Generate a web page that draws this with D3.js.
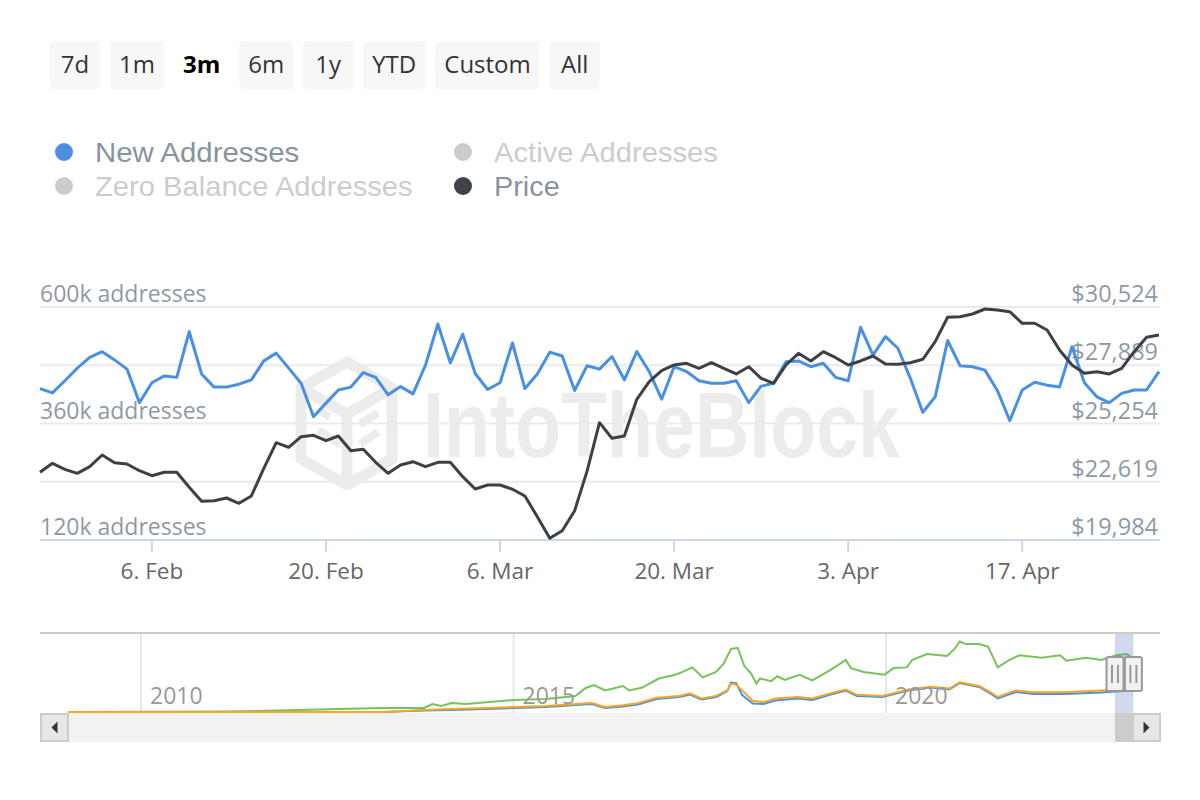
<!DOCTYPE html>
<html><head><meta charset="utf-8">
<script src="https://cdn.jsdelivr.net/npm/d3@7"></script>
<style>html,body{margin:0;padding:0;background:#fff;} svg{display:block;}</style>
</head><body><svg id="c" width="1200" height="800"></svg>
<script>
// ---------------- DATA ----------------
const rangeButtons = ["7d","1m","3m","6m","1y","YTD","Custom","All"];
const selectedRange = "3m";

const legendNames   = ["New Addresses","Active Addresses","Zero Balance Addresses","Price"];
const legendColors  = ["#4a90e2","#cccccc","#cccccc","#3f4347"];
const legendActive  = [true,false,false,true];

const startDate = "2023-01-28";   // daily points
const newAddressesK = [
 432,423,448,474,496,508,491,472,403,444,
 458,455,549,462,435,435,441,450,489,505,
 474,443,374,402,429,435,465,455,419,436,
 421,480,565,485,544,463,430,444,526,432,
 462,507,499,428,479,472,498,450,508,467,
 410,477,467,448,443,443,448,403,437,443,
 487,489,477,484,455,448,558,501,539,515,
 453,383,415,531,479,477,470,428,366,429,
 445,439,435,518,444,415,403,422,429,429,
 467];
const price = [
 23047,23454,23182,23001,23300,23829,23481,23422,23119,22893,
 23047,23047,22368,21735,21762,21884,21644,21975,23228,24386,
 24178,24657,24721,24476,24689,24024,24087,23499,23001,23377,
 23526,23300,23499,23499,22848,22291,22472,22472,22278,21975,
 21038,20061,20405,21310,23100,25291,24585,24689,26349,27146,
 27643,27901,27978,27752,28005,27752,27494,27824,27299,27073,
 27901,28430,28082,28503,28231,27901,28082,28308,27946,27932,
 28005,28159,28955,30059,30086,30208,30434,30389,30312,29787,
 29787,29484,28580,27901,27525,27598,27494,27752,28503,29154,
 29258];

const addressTicks = [120000,240000,360000,480000,600000];
const addressTickLabels = ["120k addresses","","360k addresses","","600k addresses"];
const priceTicks = [19984,22619,25254,27889,30524];
const priceTickLabels = ["$19,984","$22,619","$25,254","$27,889","$30,524"];
const dateTicks = ["2023-02-06","2023-02-20","2023-03-06","2023-03-20","2023-04-03","2023-04-17"];

// navigator (whole history, relative units)
const navYearTicks = [2010,2015,2020];
const navActiveYears = [2009.02,2011.10,2011.53,2013.25,2013.80,2013.91,2014.03,2014.17,2014.36,2015.01,2015.44,2015.83,2015.97,2016.08,2016.23,2016.47,2016.55,2016.72,2016.95,2017.17,2017.27,2017.40,2017.54,2017.72,2017.82,2017.92,2018.01,2018.10,2018.19,2018.26,2018.31,2018.46,2018.54,2018.64,2018.84,2019.01,2019.21,2019.33,2019.46,2019.53,2019.70,2019.98,2020.10,2020.28,2020.35,2020.55,2020.82,2020.92,2020.99,2021.07,2021.25,2021.37,2021.50,2021.64,2021.79,2022.09,2022.34,2022.42,2022.69,2022.89,2023.09,2023.23,2023.28];
const navActive = [0,0.5,1,4,4,8,6,9,8,12,13,16,24,27,21.6,26,21.6,24.2,33.5,37.2,40.1,44.6,34.6,40.1,48.3,63.1,64.2,45.7,38.3,28.3,33.5,30.9,35.7,32,37.2,31.6,40.1,45.7,52,43.9,40.1,37.2,43.9,44.6,52,57.9,56.1,63.1,70.5,67.9,67.9,65.3,44.6,51.3,56.8,54.2,56.8,51.3,54.2,52,56.8,57.9,55.7];
const navOtherYears = [2009.02,2013.25,2013.80,2014.17,2015.01,2015.44,2015.73,2016.05,2016.23,2016.47,2016.67,2016.92,2017.22,2017.37,2017.52,2017.72,2017.87,2017.92,2017.99,2018.07,2018.21,2018.36,2018.51,2018.81,2019.01,2019.26,2019.46,2019.61,2019.95,2020.30,2020.60,2020.85,2020.99,2021.25,2021.40,2021.50,2021.74,2021.99,2022.39,2022.89,2023.28];
const navZero = [0,0,2,3,5,6,7.5,9,5,6.8,8.7,14.2,16.1,18.7,13.5,16.1,21.6,28.3,27.2,21.6,11.3,9.8,13.5,15,13.5,18.7,22.4,17.2,16.1,22.4,25.3,23.5,29.8,26.1,19.8,15,21.6,19.8,19.8,21.6,23];
const navNew  = [0,0,1.5,2,4,5,6.5,8,4,5.5,7.5,13,15,17.5,12.5,15,21,29.5,28.5,17,8.5,8,11.5,13.5,12,17.5,21.5,16,15,21.5,24.5,22.5,29,25,18.5,13.5,20,18,18,19.5,21.5];

// ---------------- DRAW ----------------
const FONT = "'Open Sans','Noto Sans',sans-serif";
const svg = d3.select("#c");

// range selector buttons
(function(){
  let x = 50;
  const g = svg.append("g");
  rangeButtons.forEach(b => {
    const sel = b === selectedRange;
    const t = g.append("text").attr("y", 73).attr("font-family", FONT)
      .attr("font-size", 24).attr("font-weight", sel ? "bold" : "normal")
      .attr("fill", sel ? "#000" : "#333").attr("text-anchor","middle").text(b);
    const tw = t.node().getComputedTextLength();
    const w = Math.max(50, tw + 18);
    if (!sel) g.insert("rect","text").attr("x", x).attr("y", 41).attr("width", w).attr("height", 48)
      .attr("rx", 4).attr("fill", "#f7f7f7");
    t.attr("x", x + w/2);
    x += w + 10;
  });
})();

// legend: compact-line-height font, fitted to the reference text widths
legendNames.forEach((n,i) => {
  const col = i % 2, row = Math.floor(i / 2);
  const cx = col === 0 ? 64 : 463, cy = 152 + row * 34;
  svg.append("circle").attr("cx", cx).attr("cy", cy).attr("r", 9).attr("fill", legendColors[i]);
  const probe = svg.append("text").attr("font-family", FONT).attr("font-size", 28.5).text(n);
  const target = probe.node().getComputedTextLength();
  probe.remove();
  svg.append("text").attr("x", cx + 31).attr("y", cy + 10).attr("font-family", "'Liberation Sans',Arial,sans-serif")
    .attr("font-size", 28).attr("fill", legendActive[i] ? "#8693a0" : "#cccccc")
    .attr("textLength", target).attr("lengthAdjust", "spacingAndGlyphs").text(n);
});

// main chart
const L = 40, R = 1159, T = 307, B = 540;
const day = d3.utcParse("%Y-%m-%d");
const t0 = day(startDate);
const dates = newAddressesK.map((_, i) => d3.utcDay.offset(t0, i));
const x = d3.scaleUtc().domain([dates[0], dates[dates.length-1]]).range([L, R]);
const yA = d3.scaleLinear().domain([120000, 600000]).range([B, T]);
const yP = d3.scaleLinear().domain([19984, 30524]).range([B, T]);

// watermark
const wm = svg.append("g").attr("fill","none").attr("stroke","#ececec").attr("stroke-width",11).attr("stroke-linejoin","round");
wm.append("path").attr("d","M347,362 L392,388 L392,459 L347,485 L301,459 L301,388 Z");
wm.append("path").attr("d","M301,388 L347,414 L392,388 M347,414 L347,485");
wm.append("path").attr("stroke-width",8).attr("d","M318,430 L340,444 M318,410 L330,417 M360,444 L378,432 M360,424 L378,413");
svg.append("text").attr("x", 423).attr("y", 457).attr("font-family","'Liberation Sans Narrow','Liberation Sans',sans-serif")
  .attr("font-weight","bold").attr("font-size", 93).attr("fill","#ececec")
  .attr("textLength", 477).attr("lengthAdjust","spacingAndGlyphs").text("IntoTheBlock");

// grid
svg.append("g").selectAll("line").data(addressTicks.slice(1)).join("line")
  .attr("x1", L).attr("x2", 1160).attr("y1", d => yA(d)).attr("y2", d => yA(d))
  .attr("stroke", "#ebebeb").attr("stroke-width", 2);

// axis line + ticks
svg.append("line").attr("x1", L).attr("x2", 1160).attr("y1", B).attr("y2", B).attr("stroke","#ccd6eb").attr("stroke-width",2);
const dt = dateTicks.map(day);
svg.append("g").selectAll("line").data(dt).join("line")
  .attr("x1", d => x(d)).attr("x2", d => x(d)).attr("y1", B).attr("y2", B + 12)
  .attr("stroke","#ccd6eb").attr("stroke-width",2);
const fmt = d3.utcFormat("%-d. %b");
svg.append("g").selectAll("text").data(dt).join("text")
  .attr("x", d => x(d)).attr("y", 579).attr("text-anchor","middle")
  .attr("font-family", FONT).attr("font-size", 22.5).attr("fill","#666").text(d => fmt(d));

// y labels
svg.append("g").selectAll("text").data(addressTicks).join("text")
  .attr("x", L).attr("y", d => yA(d) - 5).attr("font-family", FONT).attr("font-size", 23)
  .attr("fill","#8e99a4").text((d,i) => addressTickLabels[i]);
svg.append("g").selectAll("text").data(priceTicks).join("text")
  .attr("x", 1158).attr("y", d => yP(d) - 5).attr("text-anchor","end").attr("font-family", FONT).attr("font-size", 23.5)
  .attr("fill","#8e99a4").text((d,i) => priceTickLabels[i]);

// series
const lineA = d3.line().x((d,i) => x(dates[i])).y(d => yA(d * 1000));
const lineP = d3.line().x((d,i) => x(dates[i])).y(d => yP(d));
svg.append("path").datum(newAddressesK).attr("d", lineA).attr("fill","none")
  .attr("stroke","#4a90e2").attr("stroke-width",3).attr("stroke-linejoin","round");
svg.append("path").datum(price).attr("d", lineP).attr("fill","none")
  .attr("stroke","#3d4045").attr("stroke-width",3).attr("stroke-linejoin","round");

// ---------------- NAVIGATOR ----------------
const NT = 634, NB = 713;
const nx = d3.scaleLinear().domain([2010, 2020]).range([141, 886]);
const ny = d3.scaleLinear().domain([0, 78]).range([NB - 1, NT]);
svg.append("g").selectAll("line").data(navYearTicks).join("line")
  .attr("x1", d => nx(d)).attr("x2", d => nx(d)).attr("y1", NT).attr("y2", NB)
  .attr("stroke","#e6e6e6").attr("stroke-width",2);
svg.append("line").attr("x1", 40).attr("x2", 1160).attr("y1", 633).attr("y2", 633).attr("stroke","#cccccc").attr("stroke-width",2);

const navLine = (xs) => d3.line().x((d,i) => nx(xs[i])).y(d => ny(d));
svg.append("path").datum(navActive).attr("d", navLine(navActiveYears)).attr("fill","none").attr("stroke","#78c25d").attr("stroke-width",2);
svg.append("path").datum(navNew).attr("d", navLine(navOtherYears)).attr("fill","none").attr("stroke","#4a90e2").attr("stroke-width",2);
svg.append("path").datum(navZero).attr("d", navLine(navOtherYears)).attr("fill","none").attr("stroke","#f5a623").attr("stroke-width",2);

svg.append("g").selectAll("text").data(navYearTicks).join("text")
  .attr("x", d => nx(d) + 9).attr("y", 704).attr("font-family", FONT).attr("font-size", 23)
  .attr("fill","#999").text(d => d);

// selected range
const toYear = d => d.getUTCFullYear() + (d3.utcDay.count(d3.utcYear(d), d)) / 365;
const s0 = nx(toYear(dates[0])), s1 = nx(toYear(dates[dates.length-1]));
svg.append("rect").attr("x", s0).attr("y", NT).attr("width", s1 - s0).attr("height", NB - NT)
  .attr("fill","rgba(102,133,194,0.3)");

// scrollbar
const SB = 713, SH = 29;
svg.append("rect").attr("x", 40).attr("y", SB).attr("width", 1120).attr("height", SH).attr("fill","#f2f2f2");
svg.append("rect").attr("x", s0).attr("y", SB).attr("width", s1 - s0).attr("height", SH).attr("fill","#cccccc");
[[40, -1],[1132, 1]].forEach(([bx, dir]) => {
  svg.append("rect").attr("x", bx + 1).attr("y", SB + 1).attr("width", 27).attr("height", SH - 2)
    .attr("fill","#e6e6e6").attr("stroke","#cccccc").attr("stroke-width",2);
  const cx = bx + 14.5, cy = SB + SH/2;
  svg.append("path").attr("d", `M${cx + 3*dir},${cy} L${cx - 3*dir},${cy-6} L${cx - 3*dir},${cy+6} Z`).attr("fill","#333");
});

// handles
[s0, s1].forEach(hx => {
  svg.append("rect").attr("x", hx - 8.5).attr("y", 657).attr("width", 17).attr("height", 34).attr("rx", 2)
    .attr("fill","#f2f2f2").attr("stroke","#999").attr("stroke-width",2);
  [-3, 3].forEach(o => svg.append("line").attr("x1", hx + o).attr("x2", hx + o).attr("y1", 665).attr("y2", 683)
    .attr("stroke","#999").attr("stroke-width",2));
});
</script></body></html>
